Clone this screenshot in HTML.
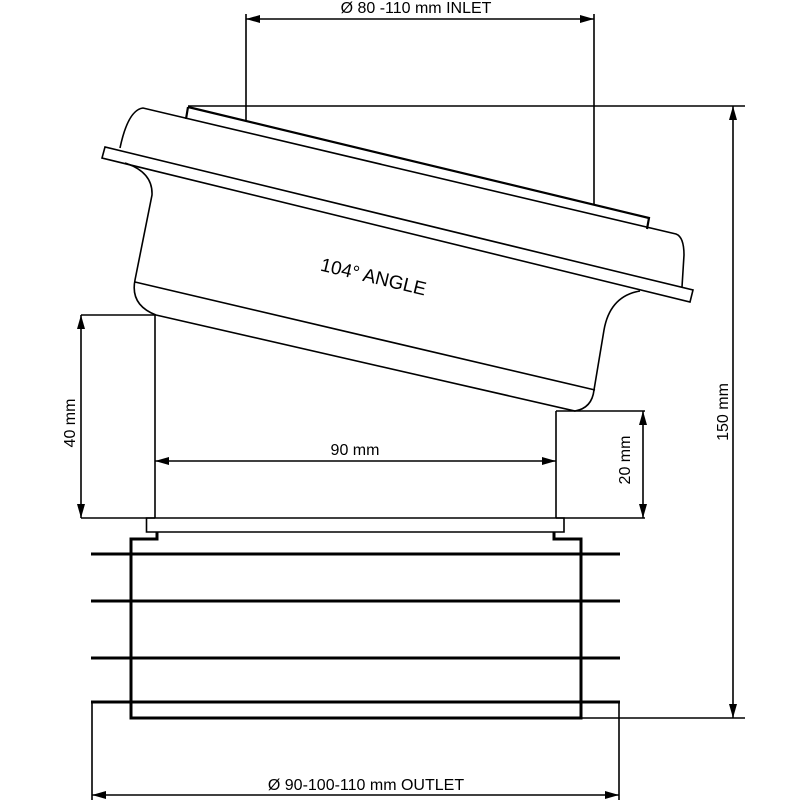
<!DOCTYPE html>
<html><head><style>html,body{margin:0;padding:0;background:#fff}svg{display:block}</style></head>
<body>
<svg width="800" height="800" viewBox="0 0 800 800" xmlns="http://www.w3.org/2000/svg" font-family="Liberation Sans, sans-serif">
<defs>
<marker id="a" viewBox="0 0 14 8" refX="14" refY="4" markerWidth="14" markerHeight="8" markerUnits="userSpaceOnUse" orient="auto-start-reverse"><path d="M0,0 L14,4 L0,8 z" fill="#000"/></marker>
</defs>
<g fill="none" stroke="#000" stroke-width="1.6">
<line x1="246" y1="14" x2="246" y2="120"/>
<line x1="594" y1="14" x2="594" y2="205"/>
<line x1="188" y1="106" x2="745" y2="106"/>
<line x1="581" y1="718" x2="745" y2="718"/>
<line x1="81" y1="315" x2="155" y2="315"/>
<line x1="81" y1="518" x2="155" y2="518"/>
<line x1="155" y1="315" x2="155" y2="518"/>
<line x1="556" y1="411" x2="556" y2="518"/>
<line x1="556" y1="411" x2="645" y2="411"/>
<line x1="556" y1="518" x2="645" y2="518"/>
<line x1="92" y1="702" x2="92" y2="800"/>
<line x1="619" y1="702" x2="619" y2="800"/>
<line x1="246" y1="19" x2="594" y2="19" marker-start="url(#a)" marker-end="url(#a)"/>
<line x1="733" y1="106" x2="733" y2="718" marker-start="url(#a)" marker-end="url(#a)"/>
<line x1="81" y1="315" x2="81" y2="518" marker-start="url(#a)" marker-end="url(#a)"/>
<line x1="155" y1="461" x2="556" y2="461" marker-start="url(#a)" marker-end="url(#a)"/>
<line x1="643" y1="411" x2="643" y2="518" marker-start="url(#a)" marker-end="url(#a)"/>
<line x1="92" y1="795" x2="619" y2="795" marker-start="url(#a)" marker-end="url(#a)"/>
<path d="M188,107 L649,218 L647,229 M188,107 L186,119" stroke-width="2.2"/>
<path d="M120,148 Q128,110 143,108 L676,234 Q684,237 684,255 L682,287"/>
<path d="M105,147 L102,158 L690,302 L693,290 Z"/>
<path d="M125,163 Q153,172 152,195 L135,280 Q130,305 156,315 L575,411 Q592,408 594,390 L604,330 Q610,296 640,291"/>
<path d="M135,282 L595,390"/>
<path d="M146.5,518 H564 V532 H146.5 Z"/>
<path d="M157,532 V539 H131 V718 H581 V539 H554 V532" stroke-width="3"/>
<path d="M91,554 H620 M91,601 H620 M91,658 H620 M91,702 H620" stroke-width="3"/>
</g>
<g font-size="16" fill="#000">
<text x="416" y="13" text-anchor="middle">Ø 80 -110 mm INLET</text>
<text x="366" y="790" text-anchor="middle">Ø 90-100-110 mm OUTLET</text>
<text x="355" y="455" text-anchor="middle">90 mm</text>
<text transform="translate(75,423) rotate(-90)" text-anchor="middle">40 mm</text>
<text transform="translate(630,460) rotate(-90)" text-anchor="middle">20 mm</text>
<text transform="translate(728,412) rotate(-90)" text-anchor="middle">150 mm</text>
<text transform="translate(372,283) rotate(13.5)" text-anchor="middle" font-size="19">104° ANGLE</text>
</g>
</svg>
</body></html>
